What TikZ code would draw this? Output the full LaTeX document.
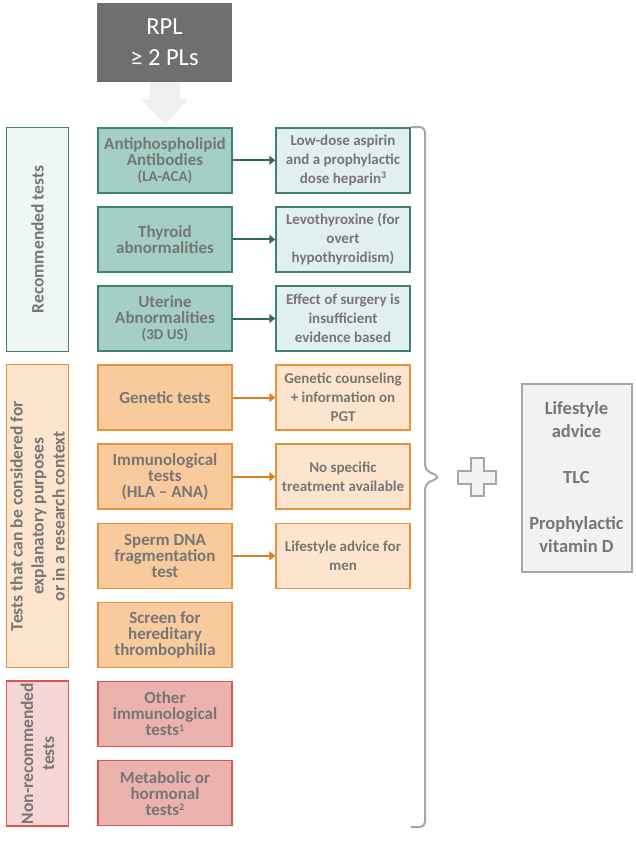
\documentclass[tikz,border=0pt]{standalone}
\usepackage{fontspec}
\setmainfont{Carlito}
\usetikzlibrary{arrows.meta}

\definecolor{txtgray}{HTML}{767676}
\definecolor{rplgray}{HTML}{6F6F6F}
\definecolor{tealline}{HTML}{3F7F73}
\definecolor{tealdark}{HTML}{2F6A5F}
\definecolor{tealmid}{HTML}{A3CFC4}
\definecolor{teallight}{HTML}{E1F0EE}
\definecolor{tealpale}{HTML}{EFF7F6}
\definecolor{orline}{HTML}{E8913A}
\definecolor{ordark}{HTML}{E07E1E}
\definecolor{ormid}{HTML}{F9CB9C}
\definecolor{orlight}{HTML}{FDE5CD}
\definecolor{redline}{HTML}{D9574F}
\definecolor{redmid}{HTML}{EBB2AD}
\definecolor{redlight}{HTML}{F5D6D4}
\definecolor{boxgray}{HTML}{A6A6A6}
\definecolor{fillgray}{HTML}{F2F2F2}
\definecolor{arrowgray}{HTML}{EFEFEF}

\newcommand{\supnum}[1]{\raisebox{4.5pt}{\fontsize{10}{10}\selectfont #1}}

\begin{document}
\begin{tikzpicture}[x=1pt, y=-1pt,
    testbox/.style={draw, line width=1.5pt, minimum width=134pt, minimum height=65pt, inner sep=2pt,
      align=center, text=txtgray, font=\bfseries\fontsize{17}{16}\selectfont},
    treatbox/.style={testbox, font=\bfseries\fontsize{15}{19}\selectfont},
    groupbox/.style={draw, line width=1.5pt, rotate=90, minimum height=62pt, inner sep=2pt,
      align=center, text=txtgray, font=\bfseries\fontsize{17.5}{21}\selectfont},
    tealarrow/.style={draw=tealdark, line width=2pt, -{Triangle[length=6pt,width=9pt]}},
    orarrow/.style={draw=ordark, line width=2pt, -{Triangle[length=6pt,width=9pt]}}]
  \useasboundingbox (0,0) rectangle (636,841);

  \node[fill=rplgray, minimum width=135pt, minimum height=79pt, align=center, text=white,
    font=\fontsize{24.5}{31}\selectfont] (rpl) at (164.5,42.5) {RPL\\≥ 2 PLs};
  \fill[arrowgray] (150,82) -- (180,82) -- (180,99) -- (189,99) -- (165,124) -- (141,99) -- (150,99) -- cycle;

  \node[groupbox, draw=tealline, fill=tealpale, minimum width=224pt] (rec) at (37.5,239.4) {Recommended tests};
  \node[groupbox, draw=orline, fill=orlight, minimum width=303pt] (cons) at (37.5,516.2)
    {Tests that can be considered for\\explanatory purposes\\or in a research context};
  \node[groupbox, draw=redline, fill=redlight, minimum width=145pt] (nonrec) at (37.5,753.5) {Non-recommended\\tests};

  \node[testbox, draw=tealline, fill=tealmid] (apl) at (165,160.3)
    {Antiphospholipid\\Antibodies\\{\fontsize{15}{16}\selectfont (LA-ACA)}};
  \node[testbox, draw=tealline, fill=tealmid] (thy) at (165,239.4) {Thyroid\\abnormalities};
  \node[testbox, draw=tealline, fill=tealmid] (ute) at (165,318.5)
    {Uterine\\Abnormalities\\{\fontsize{15}{16}\selectfont (3D US)}};
  \node[testbox, draw=orline, fill=ormid] (gen) at (165,397.6) {Genetic tests};
  \node[testbox, draw=orline, fill=ormid] (imm) at (165,476.7) {Immunological\\tests\\(HLA – ANA)};
  \node[testbox, draw=orline, fill=ormid] (sperm) at (165,555.8) {Sperm DNA\\fragmentation\\test};
  \node[testbox, draw=orline, fill=ormid] (thromb) at (165,634.9) {Screen for\\hereditary\\thrombophilia};
  \node[testbox, draw=redline, fill=redmid] (othimm) at (165,714) {Other\\immunological\\tests\supnum{1}};
  \node[testbox, draw=redline, fill=redmid] (metab) at (165,793.1) {Metabolic or\\hormonal\\tests\supnum{2}};

  \node[treatbox, draw=tealline, fill=teallight] (aspirin) at (343,160.3)
    {Low-dose aspirin\\and a prophylactic\\dose heparin\supnum{3}};
  \node[treatbox, draw=tealline, fill=teallight] (levo) at (343,239.4) {Levothyroxine (for\\overt\\hypothyroidism)};
  \node[treatbox, draw=tealline, fill=teallight] (surgery) at (343,318.5)
    {Effect of surgery is\\insufficient\\evidence based};
  \node[treatbox, draw=orline, fill=orlight] (counsel) at (343,397.6) {Genetic counseling\\+ information on\\PGT};
  \node[treatbox, draw=orline, fill=orlight] (notreat) at (343,476.7) {No specific\\treatment available};
  \node[treatbox, draw=orline, fill=orlight] (menlife) at (343,555.8) {Lifestyle advice for\\men};

  \draw[tealarrow] (apl.east) -- (aspirin.west);
  \draw[tealarrow] (thy.east) -- (levo.west);
  \draw[tealarrow] (ute.east) -- (surgery.west);
  \draw[orarrow] (gen.east) -- (counsel.west);
  \draw[orarrow] (imm.east) -- (notreat.west);
  \draw[orarrow] (sperm.east) -- (menlife.west);

  \draw[boxgray, line width=2pt, rounded corners=5pt] (411,127) -- (425,127) -- (425,470) -- (440,477)
    -- (425,484) -- (425,827) -- (411,827);

  \draw[boxgray, fill=fillgray, line width=1.5pt] (471,458) -- (484,458) -- (484,471) -- (496,471) -- (496,484)
    -- (484,484) -- (484,496) -- (471,496) -- (471,484) -- (458,484) -- (458,471) -- (471,471) -- cycle;

  \node[draw=boxgray, fill=fillgray, line width=2pt, minimum width=110pt, minimum height=188pt, align=center,
    text=txtgray, font=\bfseries\fontsize{18.5}{23}\selectfont] (adjunct) at (576.5,477.5)
    {Lifestyle\\advice\\[23pt]TLC\\[23pt]Prophylactic\\vitamin D};
\end{tikzpicture}
\end{document}
